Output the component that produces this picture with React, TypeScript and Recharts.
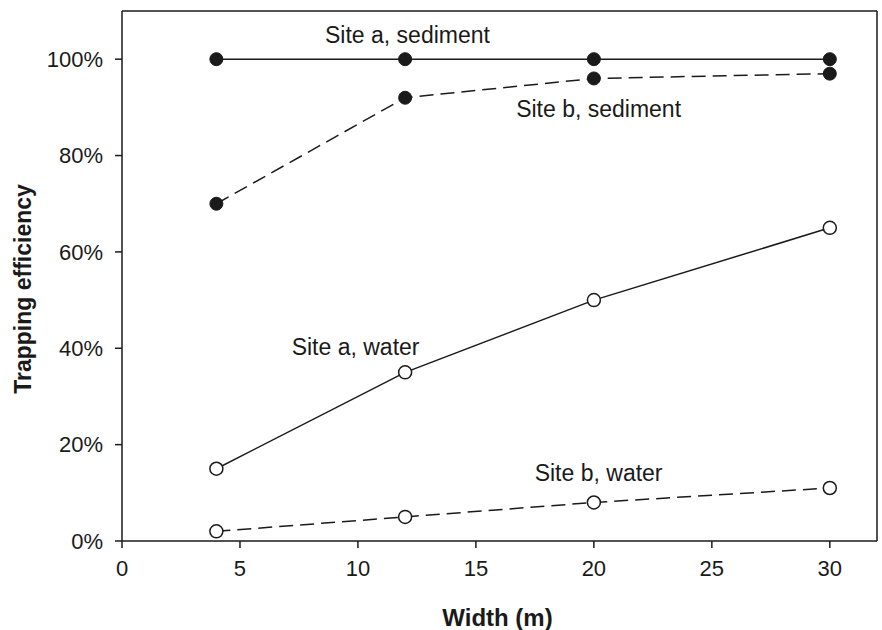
import React from "react";
import {
  LineChart,
  Line,
  XAxis,
  YAxis,
  ReferenceLine,
  ReferenceDot,
} from "recharts";

const widths = [4, 12, 20, 30];
const siteASediment = [100, 100, 100, 100];
const siteBSediment = [70, 92, 96, 97];
const siteAWater = [15, 35, 50, 65];
const siteBWater = [2, 5, 8, 11];

const xTicks = [0, 5, 10, 15, 20, 25, 30];
const yTicks = [0, 20, 40, 60, 80, 100];

const labels = [
  { text: "Site a, sediment", x: 12.1, y: 105.0 },
  { text: "Site b, sediment", x: 20.2, y: 89.6 },
  { text: "Site a, water", x: 9.9, y: 40.2 },
  { text: "Site b, water", x: 20.2, y: 14.1 },
];

const data = widths.map((w, i) => ({
  w,
  aSed: siteASediment[i],
  bSed: siteBSediment[i],
  aWat: siteAWater[i],
  bWat: siteBWater[i],
}));

const FONT = "'Liberation Sans', Arial, sans-serif";
const INK = "#1a1a1a";

const FilledDot = (props: any) => {
  const { cx, cy } = props;
  if (cx == null || cy == null) return null;
  return <circle cx={cx} cy={cy} r={6.5} fill={INK} stroke={INK} strokeWidth={1} />;
};

const OpenDot = (props: any) => {
  const { cx, cy } = props;
  if (cx == null || cy == null) return null;
  return <circle cx={cx} cy={cy} r={6.5} fill="#fff" stroke={INK} strokeWidth={1.5} />;
};

const XTitle = (props: any) => {
  const vb = props.viewBox || {};
  const cx = vb.x + vb.width / 2 - 2;
  const y = vb.y + vb.height - 4;
  return (
    <text
      x={cx}
      y={y}
      textAnchor="middle"
      fill={INK}
      fontSize={24}
      fontWeight="bold"
      fontFamily={FONT}
    >
      Width (m)
    </text>
  );
};

const YTitle = (props: any) => {
  const vb = props.viewBox || {};
  const cx = vb.x - 39;
  const cy = vb.y + vb.height / 2 + 13;
  return (
    <text
      x={cx}
      y={cy}
      transform={`rotate(-90, ${cx}, ${cy})`}
      textAnchor="middle"
      dominantBaseline="central"
      fill={INK}
      fontSize={23}
      fontWeight="bold"
      fontFamily={FONT}
    >
      Trapping efficiency
    </text>
  );
};

export default function App() {
  return (
    <div style={{ position: "absolute", left: 0, top: 0, background: "#fff" }}>
      <LineChart
        width={882}
        height={630}
        data={data}
        margin={{ top: 11, right: 5, bottom: 0, left: 62 }}
      >
        <XAxis
          dataKey="w"
          type="number"
          domain={[0, 32]}
          ticks={xTicks}
          height={89}
          tickLine={{ stroke: INK, strokeWidth: 1.5 }}
          axisLine={{ stroke: INK, strokeWidth: 1.5 }}
          tickSize={7}
          tick={{ fill: INK, fontSize: 22, fontFamily: FONT }}
          tickMargin={12}
          label={<XTitle />}
        />
        <YAxis
          type="number"
          domain={[0, 110]}
          ticks={yTicks}
          width={60}
          tickFormatter={(v: number) => `${v}%`}
          tickLine={{ stroke: INK, strokeWidth: 1.5 }}
          axisLine={{ stroke: INK, strokeWidth: 1.5 }}
          tickSize={7}
          tick={{ fill: INK, fontSize: 22, fontFamily: FONT }}
          tickMargin={12}
          label={<YTitle />}
        />
        <ReferenceLine y={110} stroke={INK} strokeWidth={1.5} />
        <ReferenceLine x={32} stroke={INK} strokeWidth={1.5} />
        <Line
          dataKey="aSed"
          stroke={INK}
          strokeWidth={1.5}
          dot={<FilledDot />}
          activeDot={false}
          isAnimationActive={false}
        />
        <Line
          dataKey="bSed"
          stroke={INK}
          strokeWidth={1.5}
          strokeDasharray="14 7"
          dot={<FilledDot />}
          activeDot={false}
          isAnimationActive={false}
        />
        <Line
          dataKey="aWat"
          stroke={INK}
          strokeWidth={1.5}
          dot={<OpenDot />}
          activeDot={false}
          isAnimationActive={false}
        />
        <Line
          dataKey="bWat"
          stroke={INK}
          strokeWidth={1.5}
          strokeDasharray="14 7"
          dot={<OpenDot />}
          activeDot={false}
          isAnimationActive={false}
        />
        {labels.map((l) => (
          <ReferenceDot
            key={l.text}
            x={l.x}
            y={l.y}
            r={0}
            fill="none"
            stroke="none"
            label={{
              value: l.text,
              position: "center",
              fill: INK,
              fontSize: 23,
              fontFamily: FONT,
            }}
          />
        ))}
      </LineChart>
    </div>
  );
}
